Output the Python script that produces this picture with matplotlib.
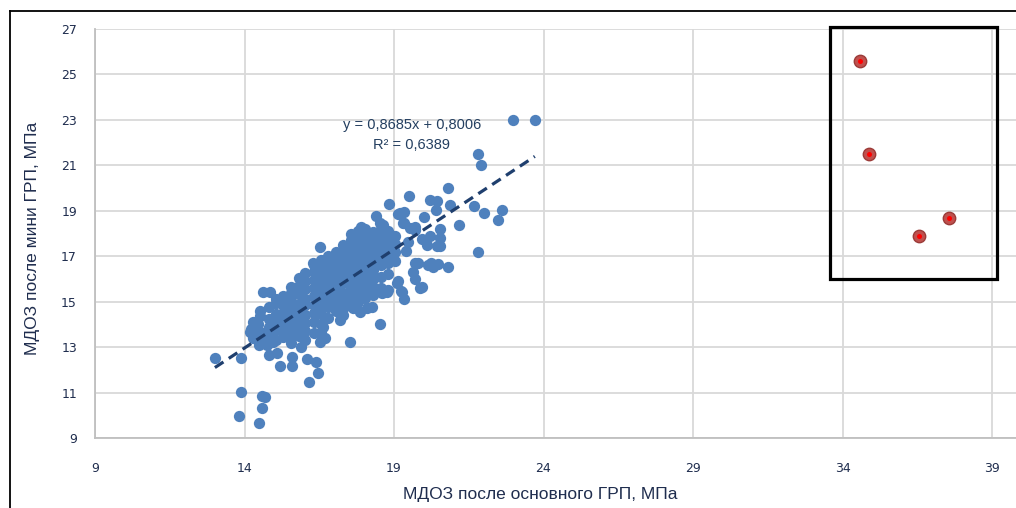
import numpy as np
import matplotlib
matplotlib.use("Agg")
import matplotlib.pyplot as plt
from matplotlib.patches import Rectangle
from matplotlib.lines import Line2D

# --- data ---
# scattered / edge points
edge_x = [22.98, 23.71, 21.81, 21.90, 20.79, 19.49, 18.83, 20.19, 20.45, 20.42, 20.86, 21.68, 22.0, 22.62,
          22.48, 21.18, 21.81, 20.0, 18.41, 17.9, 18.63, 19.19, 19.35, 20.53, 20.19, 20.53, 20.53, 19.92,
          19.69, 19.35, 19.41, 19.80, 20.25, 20.47, 20.81, 19.64, 19.69, 19.92, 19.13, 19.24, 19.32, 18.80,
          18.58, 18.52, 17.52, 16.51, 19.53, 19.70, 20.09, 20.43, 19.48, 19.70, 20.15, 20.31, 19.87, 19.26,
          18.53, 16.30, 19.14, 19.31, 19.09, 18.59, 18.78, 17.19, 17.30, 17.86, 18.09, 18.25, 17.64, 16.64,
          16.69, 16.53]
edge_y = [23.0, 23.0, 21.49, 21.0, 19.99, 19.67, 19.29, 19.48, 19.41, 19.05, 19.26, 19.22, 18.9, 19.02,
          18.61, 18.39, 17.2, 18.73, 18.78, 18.29, 18.39, 18.9, 18.95, 18.2, 17.88, 17.81, 17.45, 17.74,
          18.28, 18.47, 17.23, 16.72, 16.72, 16.65, 16.53, 16.29, 16.0, 15.64, 15.92, 15.49, 15.12, 15.53,
          15.41, 14.0, 13.23, 17.40, 18.23, 18.15, 17.49, 17.45, 17.64, 16.69, 16.61, 16.54, 15.61, 15.44,
          18.45, 16.69, 18.88, 18.45, 15.81, 15.37, 15.44, 14.19, 14.41, 14.56, 14.71, 14.78, 14.71, 13.90,
          13.39, 13.24]

low_x = [13.01, 13.87, 13.88, 14.57, 14.70, 14.57, 13.82, 14.48, 14.61, 14.84, 14.22, 14.45, 14.50, 14.74,
         14.96, 14.81, 15.08, 15.19, 15.58, 15.58, 16.08, 16.39, 16.47, 16.17, 14.18, 14.41, 15.90]
low_y = [12.53, 12.53, 11.04, 10.85, 10.80, 10.33, 9.97, 9.68, 15.41, 15.41, 13.81, 14.03, 13.09, 13.09,
         13.24, 12.65, 12.75, 12.17, 12.58, 12.17, 12.46, 12.36, 11.85, 11.48, 13.68, 13.97, 13.01]

# dense core of the cloud (x -> y values)
core = {
    14.30: [13.4, 13.85, 14.1],
    14.52: [13.3, 13.65, 14.35, 14.6],
    14.83: [13.55, 13.9, 14.25, 14.75],
    15.07: [13.3, 13.75, 14.05, 14.45, 14.95, 15.1],
    15.28: [13.45, 13.8, 14.15, 14.5, 14.85, 15.25],
    15.57: [13.2, 13.55, 13.95, 14.3, 14.65, 15.05, 15.4, 15.65],
    15.82: [13.5, 13.85, 14.2, 14.55, 14.9, 15.35, 15.7, 16.05],
    16.03: [13.3, 13.7, 14.05, 14.4, 14.85, 15.1, 15.55, 15.9, 16.25],
    16.32: [13.6, 14.1, 14.5, 14.85, 15.25, 15.6, 15.95, 16.3, 16.6],
    16.56: [13.6, 14.0, 14.45, 14.7, 15.15, 15.45, 15.8, 16.15, 16.5, 16.85],
    16.78: [14.3, 14.75, 15.0, 15.35, 15.7, 16.05, 16.4, 16.75, 17.0],
    17.07: [14.6, 14.95, 15.25, 15.6, 15.95, 16.3, 16.6, 16.95, 17.2],
    17.28: [14.7, 15.05, 15.4, 15.8, 16.15, 16.5, 16.85, 17.1, 17.5],
    17.57: [14.8, 15.2, 15.6, 15.95, 16.3, 16.65, 17.0, 17.35, 17.7, 18.0],
    17.81: [15.0, 15.4, 15.75, 16.1, 16.45, 16.8, 17.15, 17.5, 17.8, 18.1],
    18.04: [15.15, 15.5, 15.9, 16.25, 16.6, 16.95, 17.3, 17.6, 17.95, 18.2],
    18.31: [15.3, 15.65, 16.0, 16.4, 16.8, 17.1, 17.45, 17.7, 18.05],
    18.56: [15.6, 16.1, 16.6, 17.0, 17.35, 17.6, 17.95, 18.2],
    18.79: [16.2, 16.7, 17.1, 17.45, 17.8, 18.1],
    19.04: [16.8, 17.2, 17.55, 17.9],
}

# highlighted points (red, in the box)
red_x = [34.58, 34.89, 36.56, 37.56]
red_y = [25.59, 21.50, 17.89, 18.68]

slope, intercept, r2 = 0.8685, 0.8006, 0.6389

xticks = [9, 14, 19, 24, 29, 34, 39]
yticks = [9, 11, 13, 15, 17, 19, 21, 23, 25, 27]

main_x = list(edge_x) + list(low_x)
main_y = list(edge_y) + list(low_y)
for cx, ys in core.items():
    main_x += [cx] * len(ys)
    main_y += ys
main_x = np.array(main_x)
main_y = np.array(main_y)

navy = '#1F2D4E'
plt.rcParams['font.family'] = ['DejaVu Sans']

fig = plt.figure(figsize=(10.16, 5.08), dpi=100)
ax = fig.add_axes([95/1016, 1-438/508, 1-95/1016, (438-29)/508])

ax.set_xlim(9, 9 + (1016-95)/29.9)
ax.set_ylim(9, 27)
ax.set_xticks(xticks)
ax.set_yticks(yticks)
ax.grid(True, color='#D9D9D9', linewidth=1.3)
ax.set_axisbelow(True)
for s in ['top', 'right']:
    ax.spines[s].set_visible(False)
for s in ['left', 'bottom']:
    ax.spines[s].set_color('#BFBFBF')
    ax.spines[s].set_linewidth(1.3)
ax.tick_params(length=0, labelsize=9, labelcolor=navy)
ax.tick_params(axis='x', pad=17)
ax.tick_params(axis='y', pad=13)

ax.scatter(main_x, main_y, s=66, color='#4F81BD', linewidths=0, zorder=3)

# trend line over the data range
tx = np.array([main_x.min(), main_x.max()])
ax.plot(tx, slope * tx + intercept, color='#1F3F6E', linewidth=2.3, dashes=(3.2, 2.0),
        dash_capstyle='butt', zorder=4)

fmt = lambda v: f'{v:.4f}'.replace('.', ',')
ax.text(19.59, 22.77, f'y = {fmt(slope)}x + {fmt(intercept)}',
        family='Liberation Sans', fontsize=10.5, color='#243F60', ha='center', va='center')
ax.text(19.59, 21.89, 'R² = ' + fmt(r2),
        family='Liberation Sans', fontsize=10.5, color='#243F60', ha='center', va='center')

ax.scatter(red_x, red_y, s=80, color='#C0504D', edgecolors='#9B3B38', linewidths=1.0, zorder=5)
ax.scatter(red_x, red_y, s=13, color='#FF0000', linewidths=0, zorder=6)

ax.add_patch(Rectangle((33.58, 16.0), 39.17 - 33.58, 27.08 - 16.0, fill=False,
                       edgecolor='black', linewidth=2.3, clip_on=False, zorder=7))

fig.text(540/1016, 1-494/508, 'МДОЗ после основного ГРП, МПа', family='Liberation Sans',
         fontsize=12.5, color=navy, ha='center', va='center')
fig.text(33/1016, 1-238/508, 'МДОЗ после мини ГРП, МПа', family='Liberation Sans',
         fontsize=12.5, color=navy, ha='center', va='center', rotation=90)

# outer chart frame (cropped)
fig.add_artist(Line2D([10/1016, 10/1016], [0, 1-11/508], color='black', linewidth=1.3))
fig.add_artist(Line2D([10/1016, 1], [1-11/508, 1-11/508], color='black', linewidth=1.3))

fig.savefig('out.png', dpi=100)
